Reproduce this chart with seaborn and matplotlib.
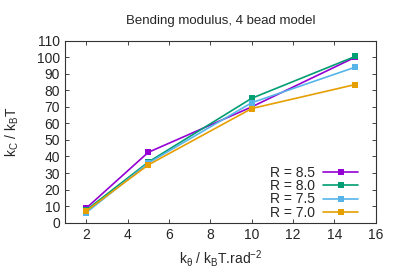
import matplotlib
matplotlib.use("Agg")
import matplotlib.pyplot as plt
import seaborn as sns
import pandas as pd

k_theta = [2, 5, 10, 15]
series_labels = ["R = 8.5", "R = 8.0", "R = 7.5", "R = 7.0"]
r85 = [8.7, 42.5, 70.0, 100.0]
r80 = [7.5, 36.6, 75.2, 100.5]
r75 = [6.0, 36.0, 72.5, 94.0]
r70 = [7.0, 34.9, 69.0, 83.5]
colors = ["#9400d3", "#009e73", "#56b4e9", "#e69f00"]

rows = []
for lab, vals in zip(series_labels, [r85, r80, r75, r70]):
    for x, y in zip(k_theta, vals):
        rows.append({"x": x, "y": y, "R": lab})
df = pd.DataFrame(rows)

sns.set_style("ticks")
plt.rcParams["font.family"] = ["Liberation Sans", "DejaVu Sans"]
plt.rcParams["mathtext.fontset"] = "custom"
plt.rcParams["mathtext.rm"] = "Liberation Sans"
plt.rcParams["mathtext.it"] = "Liberation Sans"

fig = plt.figure(figsize=(3.99, 2.79), dpi=100)
ax = fig.add_axes([0.164, 0.202, 0.778, 0.652])
sns.lineplot(data=df, x="x", y="y", hue="R", hue_order=series_labels,
             palette=colors, marker="s", markersize=4.5, markeredgewidth=0,
             linewidth=1.2, ax=ax, legend=True)

ax.set_xlim(1, 16)
ax.set_ylim(0, 110)
ax.set_xticks(range(2, 17, 2))
ax.set_yticks(range(0, 111, 10))
ax.tick_params(direction="in", top=True, right=True, length=3, width=0.6,
               labelsize=10, pad=4)
for s in ax.spines.values():
    s.set_linewidth(0.8)
    s.set_visible(True)
    s.set_color("#333333")
ax.set_title("Bending modulus, 4 bead model", fontsize=9.5, pad=12)
ax.set_xlabel(r"k$_\theta$ / k$_\mathrm{B}$T.rad$^{-2}$", fontsize=10)
ax.set_ylabel(r"k$_\mathrm{C}$ / k$_\mathrm{B}$T", fontsize=10, labelpad=11)

leg = ax.legend(loc="lower right", bbox_to_anchor=(0.943, 0.016),
                frameon=False, markerfirst=False,
                fontsize=10, handlelength=2.5, labelspacing=-0.05,
                borderaxespad=0, borderpad=0, handletextpad=0.58)
fig.savefig("out.png", dpi=100)
